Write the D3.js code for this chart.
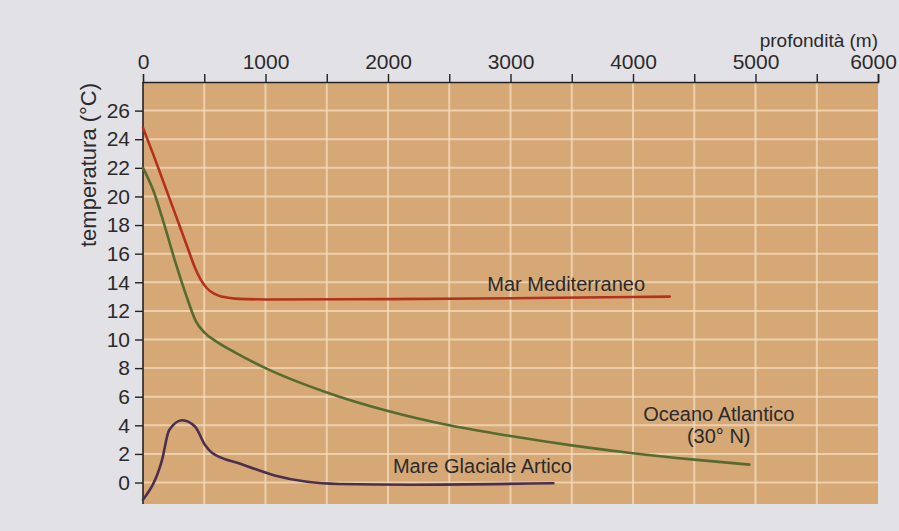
<!DOCTYPE html>
<html>
<head>
<meta charset="utf-8">
<script src="https://cdn.jsdelivr.net/npm/d3@7"></script>
<style>
  html, body { margin: 0; padding: 0; background: #e2e1e6; }
  svg { display: block; }
  text { font-family: "Liberation Sans", Arial, sans-serif; fill: #2b2a2c; }
</style>
</head>
<body>
<svg id="chart" width="899" height="531"></svg>
<script>
// ---- data ----
const xTickLabels = [0, 1000, 2000, 3000, 4000, 5000, 6000];
const xTicksMinor = [0, 500, 1000, 1500, 2000, 2500, 3000, 3500, 4000, 4500, 5000, 5500, 6000];
const yTickLabels = [0, 2, 4, 6, 8, 10, 12, 14, 16, 18, 20, 22, 24, 26];

// [depth (m), temperature (°C)]
const mediterraneo = [[0,24.8],[90,22.8],[180,20.7],[275,18.5],[365,16.4],[420,15.1],[470,14.2],[520,13.6],[580,13.2],[650,12.98],[750,12.86],[1000,12.8],[2000,12.82],[3000,12.88],[4300,13.0]];
const atlantico = [[0,22],[85,20.4],[178,17.9],[268,15.3],[356,13.0],[430,11.3],[500,10.5],[600,9.85],[750,9.1],[1000,8.0],[1500,6.3],[2000,5.0],[2500,4.0],[3000,3.25],[3500,2.6],[4000,2.05],[4500,1.6],[4950,1.25]];
const artico = [[0,-1.2],[156,1.6],[213,3.65],[320,4.35],[426,3.9],[508,2.6],[560,2.1],[800,1.3],[1075,0.5],[1340,0.05],[1600,-0.1],[2200,-0.15],[3350,-0.05]];

const seriesNames = ["Mar Mediterraneo", "Oceano Atlantico", "Mare Glaciale Artico"];

// ---- layout ----
const svg = d3.select("#chart");
const x = d3.scaleLinear().domain([0, 6000]).range([143, 878]);
const y = d3.scaleLinear().domain([-1.5, 28]).range([504, 82]);

// plot background
svg.append("rect")
  .attr("x", x(0)).attr("y", y(28))
  .attr("width", x(6000) - x(0)).attr("height", y(-1.5) - y(28))
  .attr("fill", "#d6a876");

// grid
const grid = svg.append("g").attr("stroke", "#f3dcc0").attr("stroke-width", 2).attr("stroke-opacity", 0.75);
grid.selectAll("line.v").data(xTicksMinor.slice(1, -1)).join("line")
  .attr("x1", d => x(d)).attr("x2", d => x(d))
  .attr("y1", y(28)).attr("y2", y(-1.5));
grid.selectAll("line.h").data(yTickLabels).join("line")
  .attr("x1", x(0)).attr("x2", x(6000))
  .attr("y1", d => y(d)).attr("y2", d => y(d));

// top x axis
const xAxis = d3.axisTop(x).tickValues(xTicksMinor).tickSize(8).tickPadding(5)
  .tickFormat(d => xTickLabels.includes(d) ? d : "");
const gx = svg.append("g").attr("transform", `translate(0,${y(28)})`).call(xAxis);
gx.select(".domain").attr("stroke", "#222").attr("stroke-width", 1.6);
gx.selectAll(".tick line").attr("stroke", "#222").attr("stroke-width", 1.4);
gx.selectAll(".tick text").attr("font-size", 21).attr("fill", "#2b2a2c")
  .attr("font-family", "Liberation Sans, Arial, sans-serif")
  .attr("dx", d => d === 6000 ? -5 : 0);
gx.selectAll(".tick").filter(d => d === 0).select("line").remove();

// left y axis
const yAxis = d3.axisLeft(y).tickValues(yTickLabels).tickSize(8).tickPadding(5);
const gy = svg.append("g").attr("transform", `translate(${x(0)},0)`).call(yAxis);
gy.select(".domain").attr("stroke", "#222").attr("stroke-width", 1.6)
  .attr("d", `M0,${y(28)}V${y(-1.5)}`);
gy.selectAll(".tick line").attr("stroke", "#222").attr("stroke-width", 1.4);
gy.selectAll(".tick text").attr("font-size", 21).attr("fill", "#2b2a2c")
  .attr("font-family", "Liberation Sans, Arial, sans-serif");

// axis titles
svg.append("text").attr("x", x(6000)).attr("y", 47).attr("text-anchor", "end")
  .attr("font-size", 19).text("profondità (m)");
svg.append("text").attr("transform", `translate(96,${y(22.2)}) rotate(-90)`)
  .attr("text-anchor", "middle").attr("font-size", 22).text("temperatura (°C)");

// lines
const line = d3.line().x(d => x(d[0])).y(d => y(d[1])).curve(d3.curveMonotoneX);
const series = [
  { data: mediterraneo, color: "#b3311e" },
  { data: atlantico, color: "#566b30" },
  { data: artico, color: "#4a2f4e" }
];
svg.append("g").selectAll("path").data(series).join("path")
  .attr("d", d => line(d.data))
  .attr("fill", "none").attr("stroke", d => d.color).attr("stroke-width", 2.6)
  .attr("stroke-linejoin", "round").attr("stroke-linecap", "round");

// series labels
const lab = svg.append("g").attr("font-size", 20);
lab.append("text").attr("x", x(2810)).attr("y", y(13.4)).text(seriesNames[0]);
lab.append("text").attr("x", x(4700)).attr("y", y(4.3)).attr("text-anchor", "middle").text(seriesNames[1]);
lab.append("text").attr("x", x(4700)).attr("y", y(2.75)).attr("text-anchor", "middle").text("(30° N)");
lab.append("text").attr("x", x(2040)).attr("y", y(0.65)).text(seriesNames[2]);
</script>
</body>
</html>
